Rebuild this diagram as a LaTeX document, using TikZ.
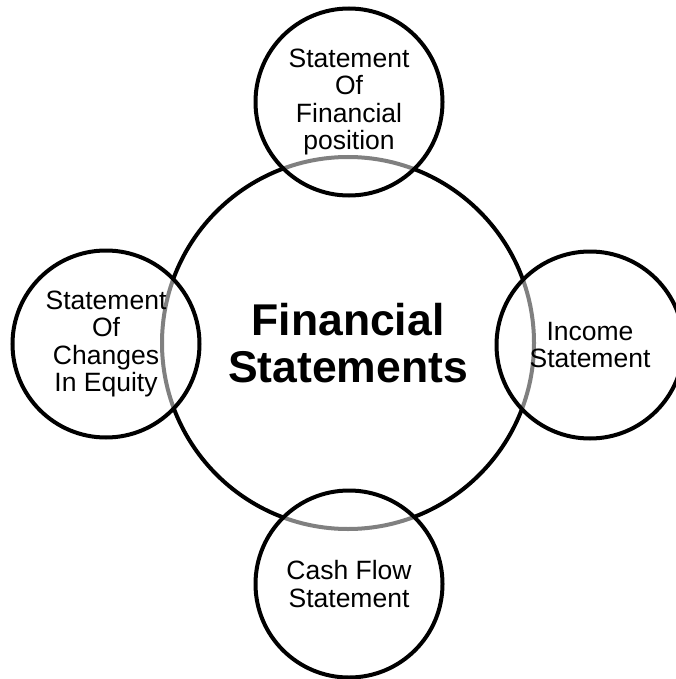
\documentclass[tikz,border=0pt]{standalone}
\usepackage{fontspec}
\setmainfont{Liberation Sans}
\begin{document}
\begin{tikzpicture}[x=1pt,y=-1pt,
  ring/.style={circle, draw=black, line width=4pt, inner sep=0pt, align=center},
  bigring/.style={ring, minimum size=372pt, fill=white,
    font=\fontsize{44.5}{47}\selectfont\bfseries},
  smallring/.style={ring, minimum size=187pt, fill=white, fill opacity=0.5,
    text opacity=1, font=\fontsize{26.5}{27.5}\selectfont}]
\useasboundingbox (0,0) rectangle (676,679);
\node[bigring] (fs) at (348,343) {Financial\\Statements};
\node[smallring] (sfp) at (349,102) {Statement\\Of\\Financial\\position};
\node[smallring] (sce) at (106,344) {Statement\\Of\\Changes\\In Equity};
\node[smallring] (is) at (590,345) {Income\\Statement};
\node[smallring] (cfs) at (349,584) {Cash Flow\\Statement};
\end{tikzpicture}
\end{document}
